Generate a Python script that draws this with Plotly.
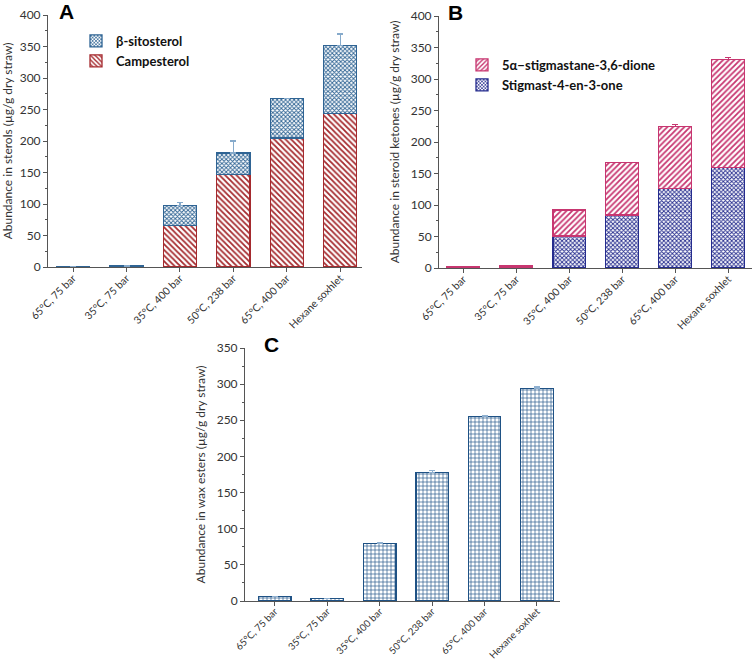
import plotly.graph_objects as go

categories = ["65°C, 75 bar", "35°C, 75 bar", "35°C, 400 bar",
              "50°C, 238 bar", "65°C, 400 bar", "Hexane soxhlet"]

# Panel A – sterols
campesterol = [0.5, 0.8, 66, 147, 205, 244]
sitosterol = [0.5, 0.7, 32, 34, 62, 108]
sitosterol_err = [0, 0, 4, 19, 0.5, 18]

# Panel B – steroid ketones
stigmastenone = [0.5, 1, 51, 84, 126, 159]
stigmastanedione = [1, 2, 41, 83, 99, 172]
stigmastenone_err = [0, 0, 0, 0, 2, 6]
stigmastanedione_err = [0.2, 0.5, 0.5, 1, 3, 3]

# Panel C – wax esters
wax_esters = [6, 3, 80, 178, 255, 294]
wax_esters_err = [0.3, 0.3, 0.5, 2, 0.8, 2]

FONT = "Lato"
W, H = 756, 661

def px_x(p):
    return p / W

def px_y(p):
    return 1 - p / H

fig = go.Figure()

def bar(x, y, name, color, shape, size, solidity, xaxis, yaxis, err=None,
        errcolor=None, legend="legend", showlegend=True):
    kw = {}
    if err is not None:
        kw["error_y"] = dict(type="data", array=err, arrayminus=[0] * len(err),
                             symmetric=False, color=errcolor, thickness=1.2, width=3)
    return go.Bar(x=x, y=y, name=name, xaxis=xaxis, yaxis=yaxis, width=0.62,
                  legend=legend, showlegend=showlegend,
                  marker=dict(color=color, line=dict(color=color, width=1.3),
                              pattern=dict(shape=shape, size=size, solidity=solidity,
                                           fgcolor=color, bgcolor="white",
                                           fillmode="replace")),
                  **kw)

# A
fig.add_trace(bar(categories, campesterol, "Campesterol", "#a52a2e", "\\", 4, 0.45, "x", "y"))
fig.add_trace(bar(categories, sitosterol, "β-sitosterol", "#2f6494", "x", 3, 0.5, "x", "y",
                  err=sitosterol_err, errcolor="#86aacb"))
# B
fig.add_trace(bar(categories, stigmastenone, "Stigmast-4-en-3-one", "#252c8e", "x", 3, 0.5,
                  "x2", "y2", err=stigmastenone_err, errcolor="#3a3f8e", legend="legend2"))
fig.add_trace(bar(categories, stigmastanedione, "5α−stigmastane-3,6-dione", "#c73670", "/", 4, 0.45,
                  "x2", "y2", err=stigmastanedione_err, errcolor="#c73670", legend="legend2"))
# C
fig.add_trace(bar(categories, wax_esters, "Wax esters", "#1f5285", "+", 4, 0.3,
                  "x3", "y3", err=wax_esters_err, errcolor="#8fb0d0", showlegend=False))

axis_common = dict(showline=True, linecolor="#555555", linewidth=1, ticks="outside",
                   ticklen=4, tickcolor="#555555", showgrid=False, zeroline=False,
                   automargin=False,
                   tickfont=dict(family=FONT, size=12, color="#333333"))

def xax(domain, anchor, rng, fsize=10.5):
    d = dict(axis_common)
    d.update(domain=domain, anchor=anchor, type="category", range=rng,
             tickangle=-45, ticklabelstandoff=-4,
             tickfont=dict(family=FONT, size=fsize, color="#333333"))
    return d

def yax(domain, anchor, rng, dtick, title):
    d = dict(axis_common)
    d.update(domain=domain, anchor=anchor, range=rng, dtick=dtick,
             minor=dict(ticks="outside", ticklen=2, tickcolor="#555555", dtick=dtick / 2),
             title=dict(text=title, font=dict(family=FONT, size=12, color="#333333"),
                        standoff=8))
    return d

fig.update_layout(
    width=W, height=H, margin=dict(l=0, r=0, t=0, b=0),
    paper_bgcolor="white", plot_bgcolor="white", barmode="stack",
    font=dict(family=FONT, color="#222222"),
    xaxis=xax([px_x(48), px_x(362)], "y", [-0.47, 5.41]),
    yaxis=yax([px_y(267), px_y(15)], "x", [0, 400], 50,
              "Abundance in sterols (µg/g dry straw)"),
    xaxis2=xax([px_x(439), px_x(752)], "y2", [-0.46, 5.45]),
    yaxis2=yax([px_y(268), px_y(16)], "x2", [0, 400], 50,
               "Abundance in steroid ketones (µg/g dry straw)"),
    xaxis3=xax([px_x(245), px_x(560)], "y3", [-0.57, 5.44], fsize=9.8),
    yaxis3=yax([px_y(601), px_y(348)], "x3", [0, 350], 50,
               "Abundance in wax esters (µg/g dry straw)"),
    legend=dict(x=px_x(76), y=px_y(26), xanchor="left", yanchor="top",
                traceorder="reversed", bgcolor="rgba(0,0,0,0)",
                font=dict(family=FONT, size=13, color="#111111", weight="bold"),
                tracegroupgap=0, itemwidth=30),
    legend2=dict(x=px_x(462), y=px_y(50), xanchor="left", yanchor="top",
                 traceorder="reversed", bgcolor="rgba(0,0,0,0)",
                 font=dict(family=FONT, size=13, color="#111111", weight="bold"),
                 tracegroupgap=0, itemwidth=30),
    annotations=[
        dict(text="<b>A</b>", x=px_x(57), y=px_y(12), xref="paper", yref="paper",
             xanchor="left", yanchor="middle", showarrow=False,
             font=dict(family="Liberation Sans", size=21, color="black")),
        dict(text="<b>B</b>", x=px_x(446), y=px_y(13), xref="paper", yref="paper",
             xanchor="left", yanchor="middle", showarrow=False,
             font=dict(family="Liberation Sans", size=21, color="black")),
        dict(text="<b>C</b>", x=px_x(262), y=px_y(344), xref="paper", yref="paper",
             xanchor="left", yanchor="middle", showarrow=False,
             font=dict(family="Liberation Sans", size=21, color="black")),
    ],
)

fig.write_html("out.html", config={"displayModeBar": False},
               post_script="document.body.style.margin='0';document.body.style.overflow='hidden';")
